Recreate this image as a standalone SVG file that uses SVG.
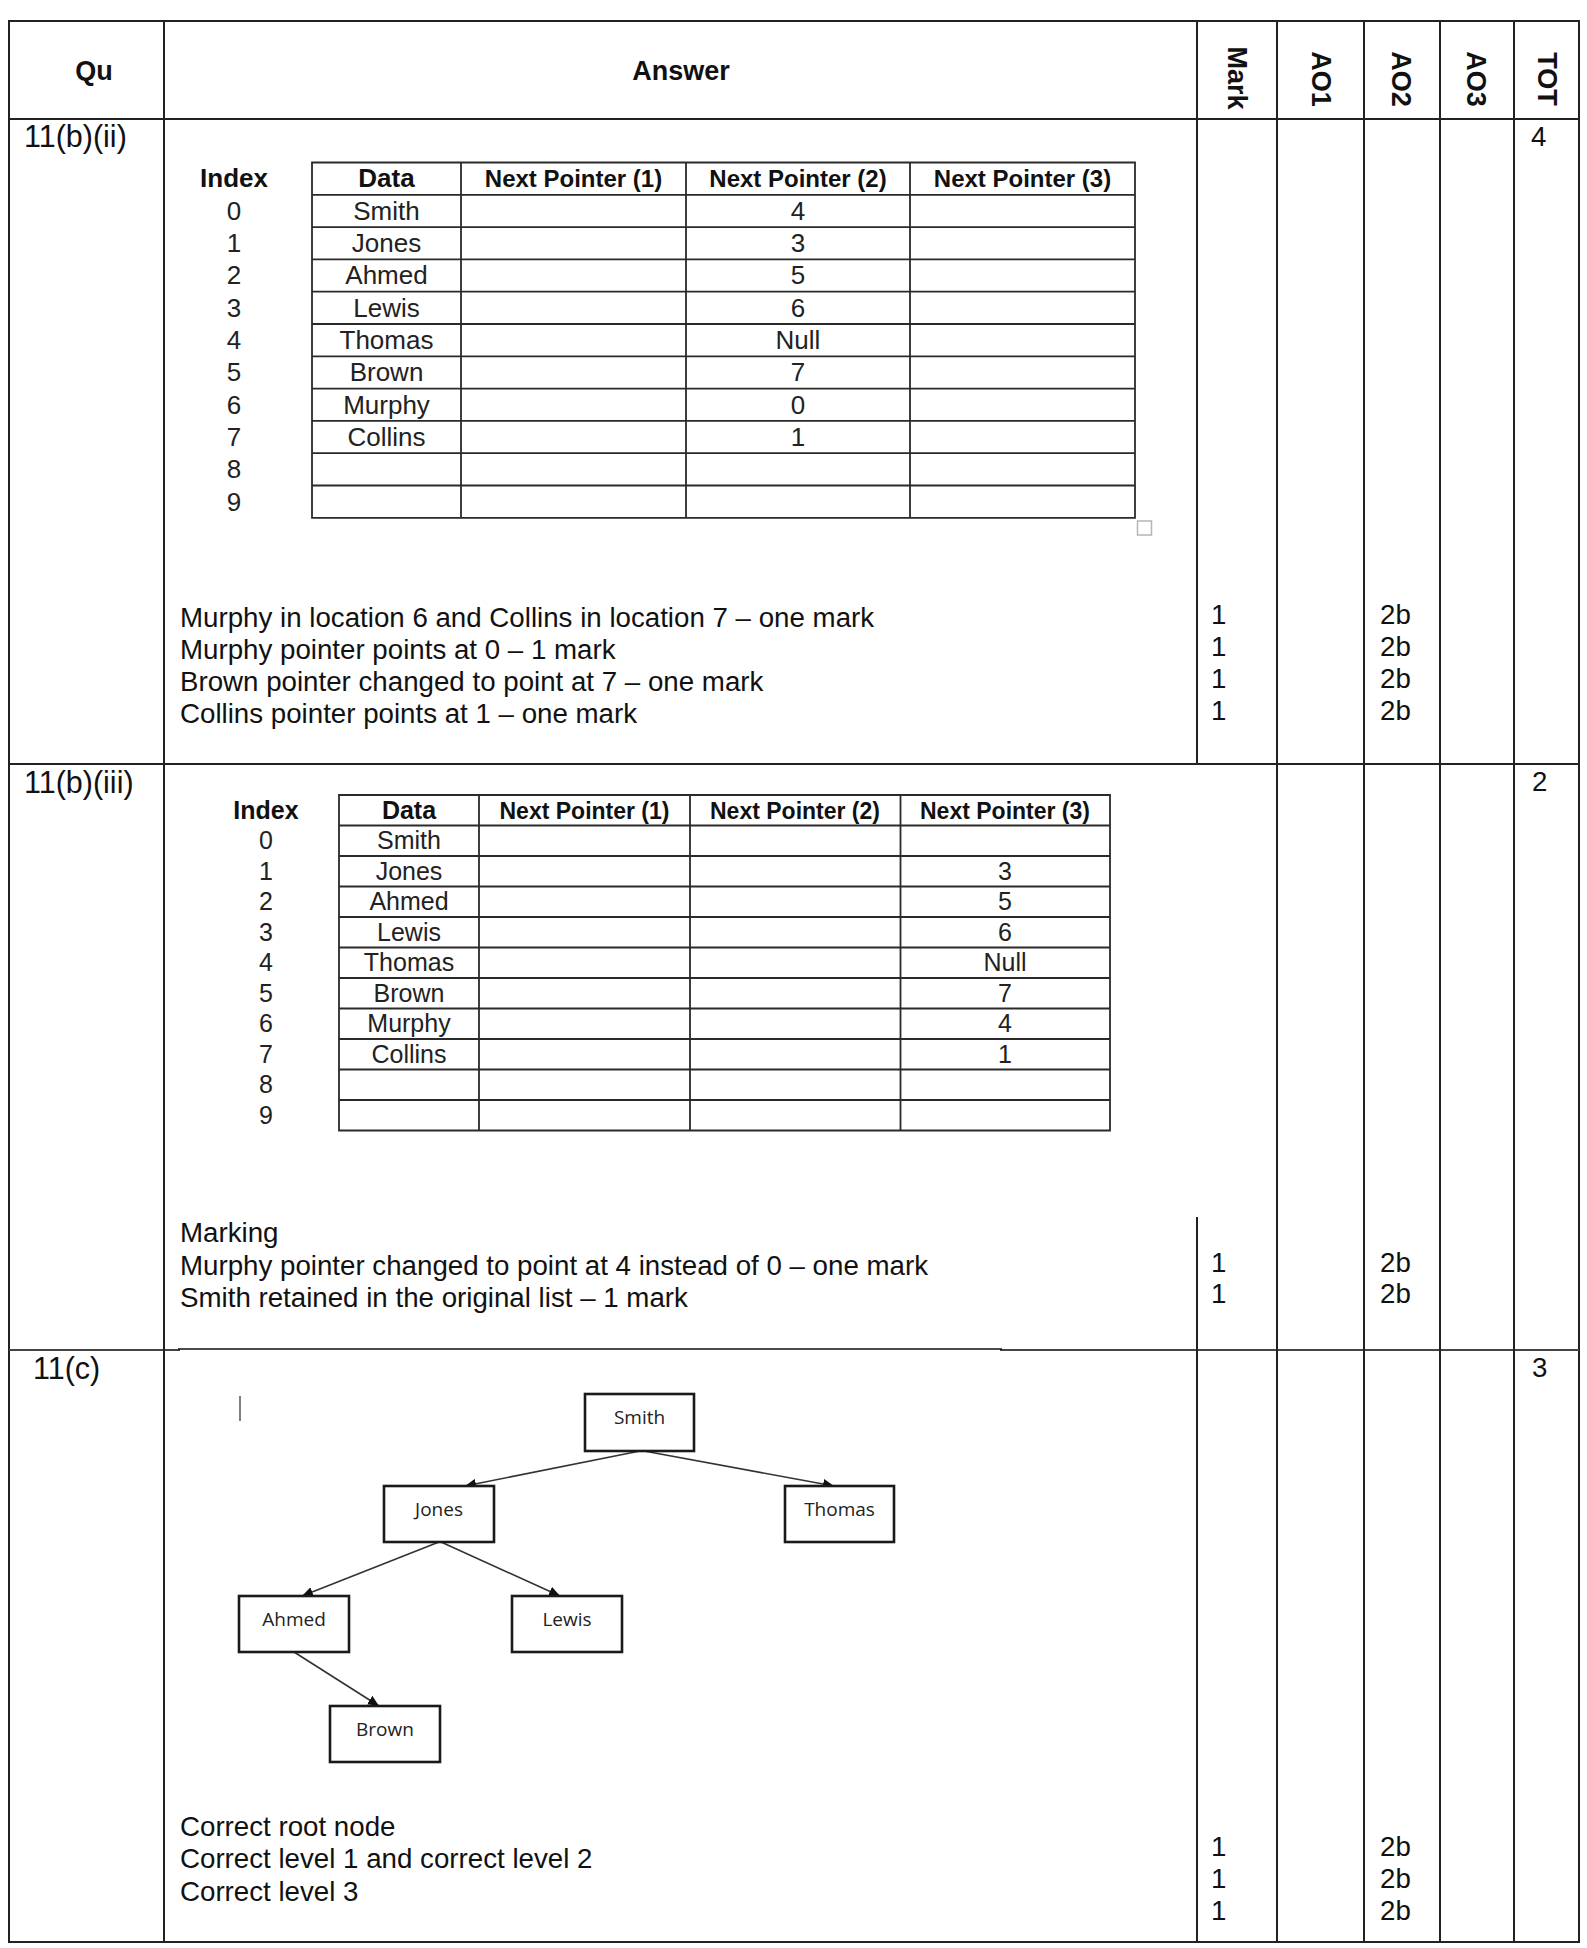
<svg xmlns="http://www.w3.org/2000/svg" width="1587" height="1948" viewBox="0 0 1587 1948">
<style>
.grid{stroke:#222;stroke-width:2;fill:none}
.tl{stroke:#2a2a2a;stroke-width:1.8;fill:none}
.hd{font-family:"Liberation Sans",Arial,sans-serif;font-weight:bold;font-size:27px;fill:#111}
.lbl{font-family:"Liberation Sans",Arial,sans-serif;font-size:30.5px;fill:#111}
.body{font-family:"Liberation Sans",Arial,sans-serif;font-size:27.7px;fill:#111}
.th1{font-family:"Liberation Sans",Arial,sans-serif;font-weight:bold;font-size:24px;fill:#111;text-anchor:middle}
.td1{font-family:"Liberation Sans",Arial,sans-serif;font-size:26px;fill:#222;text-anchor:middle}
.th2{font-family:"Liberation Sans",Arial,sans-serif;font-weight:bold;font-size:23px;fill:#111;text-anchor:middle}
.td2{font-family:"Liberation Sans",Arial,sans-serif;font-size:25px;fill:#222;text-anchor:middle}
.box{fill:#fff;stroke:#1a1a1a;stroke-width:2.6}
.nt{font-family:"Open Sans","Noto Sans",sans-serif;font-size:19px;fill:#222;text-anchor:middle}
.edge{stroke:#333;stroke-width:1.6;fill:none}
</style>
<defs>
<marker id="ah" markerUnits="userSpaceOnUse" markerWidth="12" markerHeight="10" refX="11" refY="5" orient="auto">
<path d="M0,0 L11,5 L0,10 z" fill="#111"/>
</marker>
</defs>
<rect width="1587" height="1948" fill="#fff"/>

<g id="outer-table">
<path class="grid" d="M9,21 H1579 V1942 H9 Z"/>
<path class="grid" d="M9,119 H1579 M9,764 H1579"/>
<path d="M9,1350 H180 M1000,1350 H1579" stroke="#444" stroke-width="2.2" fill="none"/>
<path d="M178,1349 H1002" stroke="#111" stroke-width="1.6" fill="none"/>
<path class="grid" d="M164,21 V1942 M1197,21 V764 M1197,1217 V1942 M1277,21 V1942 M1364,21 V1942 M1440,21 V1942 M1514,21 V1942"/>
</g>

<g id="header">
<text class="hd" x="94" y="80" text-anchor="middle">Qu</text>
<text class="hd" x="681" y="80" text-anchor="middle">Answer</text>
<text class="hd" text-anchor="middle" transform="translate(1228,78) rotate(90)">Mark</text>
<text class="hd" text-anchor="middle" transform="translate(1312,79) rotate(90)">AO1</text>
<text class="hd" text-anchor="middle" transform="translate(1392,79) rotate(90)">AO2</text>
<text class="hd" text-anchor="middle" transform="translate(1467,79) rotate(90)">AO3</text>
<text class="hd" text-anchor="middle" transform="translate(1538,79) rotate(90)">TOT</text>
</g>

<g id="row-11b-ii">
<text class="lbl" x="24" y="147">11(b)(ii)</text>
<text class="body" x="1531" y="146">4</text>
<g id="table1">
<path class="tl" d="M312,162.5 H1135 V517.8 H312 Z"/>
<path class="tl" d="M312,194.8 H1135 M312,227.1 H1135 M312,259.4 H1135 M312,291.7 H1135 M312,324 H1135 M312,356.3 H1135 M312,388.6 H1135 M312,420.9 H1135 M312,453.2 H1135 M312,485.5 H1135"/>
<path class="tl" d="M461,162.5 V517.8 M686,162.5 V517.8 M910,162.5 V517.8"/>
<rect x="1137.5" y="521" width="14" height="14" fill="none" stroke="#b5b5b5" stroke-width="1.5"/>
<text class="th1" x="234" y="187" style="font-size:26px">Index</text>
<text class="th1" x="386.5" y="187" style="font-size:26px">Data</text>
<text class="th1" x="573.5" y="187">Next Pointer (1)</text>
<text class="th1" x="798" y="187">Next Pointer (2)</text>
<text class="th1" x="1022.5" y="187">Next Pointer (3)</text>
<text class="td1" x="234" y="219.8">0</text>
<text class="td1" x="234" y="252.1">1</text>
<text class="td1" x="234" y="284.4">2</text>
<text class="td1" x="234" y="316.7">3</text>
<text class="td1" x="234" y="349">4</text>
<text class="td1" x="234" y="381.3">5</text>
<text class="td1" x="234" y="413.6">6</text>
<text class="td1" x="234" y="445.9">7</text>
<text class="td1" x="234" y="478.2">8</text>
<text class="td1" x="234" y="510.5">9</text>
<text class="td1" x="386.5" y="219.8">Smith</text>
<text class="td1" x="386.5" y="252.1">Jones</text>
<text class="td1" x="386.5" y="284.4">Ahmed</text>
<text class="td1" x="386.5" y="316.7">Lewis</text>
<text class="td1" x="386.5" y="349">Thomas</text>
<text class="td1" x="386.5" y="381.3">Brown</text>
<text class="td1" x="386.5" y="413.6">Murphy</text>
<text class="td1" x="386.5" y="445.9">Collins</text>
<text class="td1" x="798" y="219.8">4</text>
<text class="td1" x="798" y="252.1">3</text>
<text class="td1" x="798" y="284.4">5</text>
<text class="td1" x="798" y="316.7">6</text>
<text class="td1" x="798" y="349">Null</text>
<text class="td1" x="798" y="381.3">7</text>
<text class="td1" x="798" y="413.6">0</text>
<text class="td1" x="798" y="445.9">1</text>
</g>
<text class="body" x="180" y="627">Murphy in location 6 and Collins in location 7 – one mark</text>
<text class="body" x="180" y="659">Murphy pointer points at 0 – 1 mark</text>
<text class="body" x="180" y="691">Brown pointer changed to point at 7 – one mark</text>
<text class="body" x="180" y="723">Collins pointer points at 1 – one mark</text>
<text class="body" x="1211" y="624">1</text>
<text class="body" x="1211" y="656">1</text>
<text class="body" x="1211" y="688">1</text>
<text class="body" x="1211" y="720">1</text>
<text class="body" x="1380" y="624">2b</text>
<text class="body" x="1380" y="656">2b</text>
<text class="body" x="1380" y="688">2b</text>
<text class="body" x="1380" y="720">2b</text>
</g>

<g id="row-11b-iii">
<text class="lbl" x="24" y="793">11(b)(iii)</text>
<text class="body" x="1532" y="791">2</text>
<g id="table2">
<path class="tl" d="M339,795 H1110 V1130.5 H339 Z"/>
<path class="tl" d="M339,825.5 H1110 M339,856 H1110 M339,886.5 H1110 M339,917 H1110 M339,947.5 H1110 M339,978 H1110 M339,1008.5 H1110 M339,1039 H1110 M339,1069.5 H1110 M339,1100 H1110"/>
<path class="tl" d="M479,795 V1130.5 M690,795 V1130.5 M900.5,795 V1130.5"/>
<text class="th2" x="266" y="819" style="font-size:25px">Index</text>
<text class="th2" x="409" y="819" style="font-size:25px">Data</text>
<text class="th2" x="584.5" y="819">Next Pointer (1)</text>
<text class="th2" x="795" y="819">Next Pointer (2)</text>
<text class="th2" x="1005" y="819">Next Pointer (3)</text>
<text class="td2" x="266" y="849">0</text>
<text class="td2" x="266" y="879.5">1</text>
<text class="td2" x="266" y="910">2</text>
<text class="td2" x="266" y="940.5">3</text>
<text class="td2" x="266" y="971">4</text>
<text class="td2" x="266" y="1001.5">5</text>
<text class="td2" x="266" y="1032">6</text>
<text class="td2" x="266" y="1062.5">7</text>
<text class="td2" x="266" y="1093">8</text>
<text class="td2" x="266" y="1123.5">9</text>
<text class="td2" x="409" y="849">Smith</text>
<text class="td2" x="409" y="879.5">Jones</text>
<text class="td2" x="409" y="910">Ahmed</text>
<text class="td2" x="409" y="940.5">Lewis</text>
<text class="td2" x="409" y="971">Thomas</text>
<text class="td2" x="409" y="1001.5">Brown</text>
<text class="td2" x="409" y="1032">Murphy</text>
<text class="td2" x="409" y="1062.5">Collins</text>
<text class="td2" x="1005" y="879.5">3</text>
<text class="td2" x="1005" y="910">5</text>
<text class="td2" x="1005" y="940.5">6</text>
<text class="td2" x="1005" y="971">Null</text>
<text class="td2" x="1005" y="1001.5">7</text>
<text class="td2" x="1005" y="1032">4</text>
<text class="td2" x="1005" y="1062.5">1</text>
</g>
<text class="body" x="180" y="1242">Marking</text>
<text class="body" x="180" y="1275">Murphy pointer changed to point at 4 instead of 0 – one mark</text>
<text class="body" x="180" y="1307">Smith retained in the original list – 1 mark</text>
<text class="body" x="1211" y="1272">1</text>
<text class="body" x="1211" y="1303">1</text>
<text class="body" x="1380" y="1272">2b</text>
<text class="body" x="1380" y="1303">2b</text>
</g>

<g id="row-11c">
<text class="lbl" x="33" y="1379">11(c)</text>
<text class="body" x="1532" y="1377">3</text>
<line x1="240" y1="1396" x2="240" y2="1421" stroke="#555" stroke-width="1.5"/>
<text class="body" x="180" y="1836">Correct root node</text>
<text class="body" x="180" y="1868">Correct level 1 and correct level 2</text>
<text class="body" x="180" y="1901">Correct level 3</text>
<text class="body" x="1211" y="1856">1</text>
<text class="body" x="1211" y="1888">1</text>
<text class="body" x="1211" y="1920">1</text>
<text class="body" x="1380" y="1856">2b</text>
<text class="body" x="1380" y="1888">2b</text>
<text class="body" x="1380" y="1920">2b</text>
</g>

<g id="connectors">
<line class="edge" x1="640" y1="1451" x2="465" y2="1486" marker-end="url(#ah)"/>
<line class="edge" x1="644" y1="1451" x2="834" y2="1486" marker-end="url(#ah)"/>
<line class="edge" x1="439" y1="1542" x2="302" y2="1596" marker-end="url(#ah)"/>
<line class="edge" x1="441" y1="1542" x2="560" y2="1596" marker-end="url(#ah)"/>
<line class="edge" x1="294" y1="1652" x2="379" y2="1706" marker-end="url(#ah)"/>
</g>

<g id="node-smith"><rect class="box" x="585" y="1394" width="109" height="57"/><text class="nt" x="639.5" y="1424">Smith</text></g>
<g id="node-jones"><rect class="box" x="384" y="1486" width="110" height="56"/><text class="nt" x="439" y="1516">Jones</text></g>
<g id="node-thomas"><rect class="box" x="785" y="1486" width="109" height="56"/><text class="nt" x="839.5" y="1516">Thomas</text></g>
<g id="node-ahmed"><rect class="box" x="239" y="1596" width="110" height="56"/><text class="nt" x="294" y="1626">Ahmed</text></g>
<g id="node-lewis"><rect class="box" x="512" y="1596" width="110" height="56"/><text class="nt" x="567" y="1626">Lewis</text></g>
<g id="node-brown"><rect class="box" x="330" y="1706" width="110" height="56"/><text class="nt" x="385" y="1736">Brown</text></g>
</svg>
